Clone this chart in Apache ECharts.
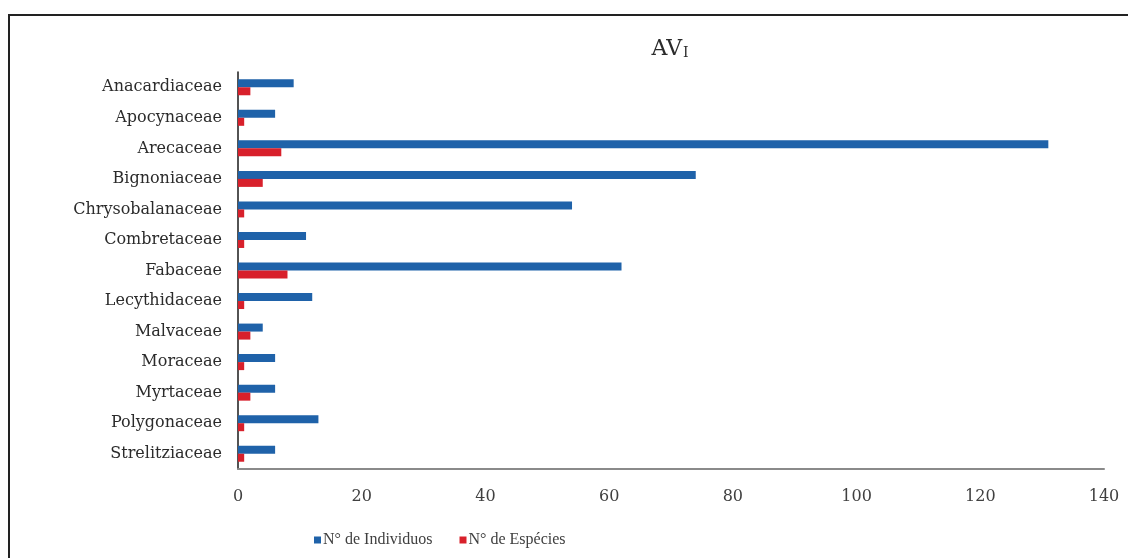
<!DOCTYPE html>
<html>
<head>
<meta charset="utf-8">
<script src="https://cdn.jsdelivr.net/npm/echarts@6/dist/echarts.min.js"></script>
<style>
  html, body { margin: 0; padding: 0; background: #fff; }
  #chart { width: 1128px; height: 558px; }
</style>
</head>
<body>
<div id="chart"></div>
<script>
// Plant families surveyed in area AVI
const families = [
  'Anacardiaceae', 'Apocynaceae', 'Arecaceae', 'Bignoniaceae', 'Chrysobalanaceae',
  'Combretaceae', 'Fabaceae', 'Lecythidaceae', 'Malvaceae', 'Moraceae',
  'Myrtaceae', 'Polygonaceae', 'Strelitziaceae'
];
// Number of individuals per family
const individuos = [9, 6, 131, 74, 54, 11, 62, 12, 4, 6, 6, 13, 6];
// Number of species per family
const especies = [2, 1, 7, 4, 1, 1, 8, 1, 2, 1, 2, 1, 1];
const seriesNames = ['N° de Individuos', 'N° de Espécies'];
const xTicks = { min: 0, max: 140, interval: 20 };

const serif = '"Liberation Serif", "Times New Roman", serif';
const wideSerif = '"DejaVu Serif", "Liberation Serif", serif';
const chart = echarts.init(document.getElementById('chart'), null, { renderer: 'canvas' });

chart.setOption({
  animation: false,
  backgroundColor: '#ffffff',
  title: {
    text: 'AV{s|I}',
    left: 665,
    top: 33,
    textAlign: 'center',
    textStyle: {
      fontFamily: wideSerif,
      fontSize: 22,
      fontWeight: 'normal',
      color: '#2b2b2b',
      rich: {
        s: { fontFamily: wideSerif, fontSize: 14, color: '#2b2b2b', verticalAlign: 'bottom', padding: [6, 0, 0, 1] }
      }
    }
  },
  legend: {
    left: 309,
    top: 527,
    itemWidth: 7,
    itemHeight: 7,
    itemGap: 27,
    icon: 'rect',
    textStyle: { fontFamily: serif, fontSize: 16, color: '#404040', padding: [0, 0, 0, -3] },
    data: seriesNames
  },
  grid: { left: 238, right: 24, top: 72, bottom: 89, containLabel: false },
  xAxis: {
    type: 'value',
    min: xTicks.min,
    max: xTicks.max,
    interval: xTicks.interval,
    axisLine: { show: true, lineStyle: { color: '#8a8a8a', width: 2 } },
    axisTick: { show: false },
    splitLine: { show: false },
    axisLabel: { fontFamily: wideSerif, fontSize: 16, color: '#404040', margin: 20 }
  },
  yAxis: {
    type: 'category',
    data: families,
    inverse: true,
    axisLine: { show: true, lineStyle: { color: '#1a1a1a', width: 1.5 } },
    axisTick: { show: false },
    axisLabel: { fontFamily: wideSerif, fontSize: 16, color: '#2b2b2b', margin: 16 }
  },
  series: [
    {
      name: seriesNames[0],
      type: 'bar',
      data: individuos,
      barWidth: 8,
      barGap: '0%',
      itemStyle: { color: '#1f62a9' }
    },
    {
      name: seriesNames[1],
      type: 'bar',
      data: especies,
      barWidth: 8,
      barGap: '0%',
      itemStyle: { color: '#d8202b' }
    }
  ],
  graphic: [
    {
      type: 'rect',
      z: -1,
      silent: true,
      shape: { x: 9, y: 15, width: 1200, height: 600 },
      style: { fill: 'none', stroke: '#222', lineWidth: 2 }
    }
  ]
});
</script>
</body>
</html>
